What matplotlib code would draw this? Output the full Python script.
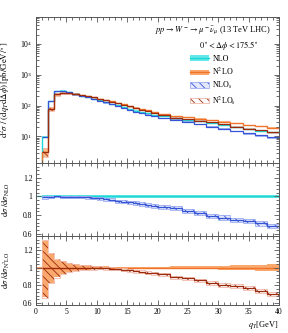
import numpy as np
import matplotlib
matplotlib.use('Agg')
import matplotlib.pyplot as plt
from matplotlib.patches import Patch
from matplotlib.lines import Line2D
from matplotlib.ticker import MultipleLocator, LogLocator, NullFormatter, FixedLocator

plt.rcParams['font.family'] = ['Liberation Serif', 'DejaVu Serif']
plt.rcParams['mathtext.fontset'] = 'stix'
plt.rcParams['hatch.linewidth'] = 0.6

# ---------------- data ----------------
# bin edges in qT [GeV]
edges = np.array(list(range(0, 21)) + list(range(22, 41, 2)), dtype=float)

# central values [pb/GeV/deg]  (30 bins, 0-1 ... 38-40)
nlo = [0.5, 9.9, 143, 300, 307, 270, 234, 210, 188, 168, 148, 131, 115, 102, 89,
       78, 69, 62, 56, 51, 45, 40, 35.5, 31, 26.5, 23, 20, 17.4, 15.2, 13.7]
n2lo = [0.5, 3.2, 80, 232, 258, 252, 240, 220, 202, 184, 167, 151, 137, 122, 109,
        97, 87, 78, 70, 63, 53, 46, 41.5, 38, 34.5, 30.5, 26.5, 23.5, 21.5, 19.5]
# s-variants start at the 1-2 bin (29 bins)
nlo_s = [9.8, 142, 300, 305, 268, 232, 208, 186, 165, 145, 127, 111, 97, 84, 73,
         64, 57, 51, 46, 40, 35, 30, 25.5, 21, 17.8, 15, 12.8, 10.8, 9.3]
n2lo_s = [3.2, 80, 232, 258, 252, 240, 220, 202, 184, 166.5, 150, 135.5, 120, 106.5, 94,
          83.5, 74.5, 66, 59, 49, 41, 36.5, 32.5, 28.5, 24.5, 21, 18, 15.8, 13.7]

# relative uncertainties
nlo_err = [0.006, 0.011, 0.011, 0.011, 0.011, 0.011, 0.011, 0.011, 0.011, 0.011, 0.011, 0.011, 0.011, 0.011, 0.011,
           0.011, 0.011, 0.011, 0.011, 0.011, 0.011, 0.012, 0.012, 0.012, 0.012, 0.012, 0.012, 0.012, 0.012, 0.012]
nlo_s_err = [0.015, 0.012, 0.01, 0.01, 0.01, 0.01, 0.011, 0.012, 0.013, 0.014, 0.015, 0.016, 0.017, 0.018, 0.019,
             0.02, 0.021, 0.022, 0.023, 0.024, 0.025, 0.026, 0.027, 0.028, 0.029, 0.03, 0.031, 0.032, 0.033]
n2lo_up = [0.005, 0.30, 0.16, 0.09, 0.07, 0.052, 0.042, 0.033, 0.026, 0.021, 0.017, 0.014, 0.012, 0.011, 0.01,
           0.01, 0.01, 0.01, 0.011, 0.011, 0.012, 0.014, 0.016, 0.018, 0.021, 0.024, 0.027, 0.03, 0.033, 0.036]
n2lo_dn = [0.005, 0.33, 0.17, 0.11, 0.068, 0.048, 0.038, 0.03, 0.024, 0.02, 0.017, 0.014, 0.012, 0.011, 0.01,
           0.01, 0.01, 0.01, 0.011, 0.011, 0.012, 0.014, 0.016, 0.018, 0.021, 0.024, 0.027, 0.03, 0.033, 0.036]
n2lo_s_up = [0.31, 0.17, 0.095, 0.073, 0.055, 0.045, 0.035, 0.028, 0.022, 0.018, 0.016, 0.015, 0.015, 0.015, 0.016,
             0.016, 0.017, 0.017, 0.018, 0.019, 0.02, 0.021, 0.022, 0.023, 0.024, 0.025, 0.026, 0.027, 0.028]
n2lo_s_dn = [0.345, 0.18, 0.115, 0.07, 0.05, 0.04, 0.032, 0.025, 0.022, 0.018, 0.016, 0.015, 0.015, 0.015, 0.016,
             0.016, 0.017, 0.017, 0.018, 0.019, 0.02, 0.021, 0.022, 0.023, 0.024, 0.025, 0.026, 0.027, 0.028]

nlo = np.array(nlo); n2lo = np.array(n2lo)
nlo_s = np.array(nlo_s); n2lo_s = np.array(n2lo_s)
nlo_err = np.array(nlo_err); nlo_s_err = np.array(nlo_s_err)
n2lo_up = np.array(n2lo_up); n2lo_dn = np.array(n2lo_dn)
n2lo_s_up = np.array(n2lo_s_up); n2lo_s_dn = np.array(n2lo_s_dn)
e_s = edges[1:]

# ---------------- styles ----------------
c_cyan, c_cyan_b = '#1fd6d6', '#62e8e8'
c_or, c_or_b = '#f2742a', '#f9a86e'
c_blue, c_blue_b = '#3553d6', '#9cacf0'
c_red, c_red_b = '#9c2a0c', '#f0b8a8'
spine_c = '#555555'

fig = plt.figure(figsize=(2.88, 3.33), dpi=100)
L, R = 36/288, 279/288
def fy(p):
    return 1 - p/333
ax0 = fig.add_axes([L, fy(163), R-L, fy(17)-fy(163)])
ax1 = fig.add_axes([L, fy(236), R-L, fy(163)-fy(236)])
ax2 = fig.add_axes([L, fy(305), R-L, fy(236)-fy(305)])


def draw(ax, nlo_c, nlo_lo, nlo_hi, s_c, s_lo, s_hi, n2_c, n2_lo, n2_hi, s2_c, s2_lo, s2_hi):
    ax.stairs(nlo_hi, edges, baseline=nlo_lo, fill=True, color=c_cyan_b, lw=0, alpha=0.8)
    ax.stairs(n2_hi, edges, baseline=n2_lo, fill=True, color=c_or_b, lw=0, alpha=0.8)
    ax.stairs(s_hi, e_s, baseline=s_lo, fill=True, facecolor='#dfe4fb', edgecolor=c_blue,
              hatch='\\\\\\\\', lw=0, alpha=0.9)
    ax.stairs(s_hi, e_s, baseline=s_lo, fill=False, edgecolor=c_blue_b, lw=0.6)
    ax.stairs(s2_hi, e_s, baseline=s2_lo, fill=True, facecolor='none', edgecolor=c_red,
              hatch='\\\\\\\\', lw=0)
    ax.stairs(s2_hi, e_s, baseline=s2_lo, fill=False, edgecolor=c_red_b, lw=0.6)
    ax.stairs(nlo_c, edges, color=c_cyan, lw=1.0, baseline=None)
    ax.stairs(n2_c, edges, color=c_or, lw=1.0, baseline=None)
    ax.stairs(s_c, e_s, color=c_blue, lw=0.9, baseline=None)
    ax.stairs(s2_c, e_s, color=c_red, lw=0.9, baseline=None)


# main panel
draw(ax0, nlo, nlo*(1-nlo_err), nlo*(1+nlo_err),
     nlo_s, nlo_s*(1-nlo_s_err), nlo_s*(1+nlo_s_err),
     n2lo, n2lo*(1-n2lo_dn), n2lo*(1+n2lo_up),
     n2lo_s, n2lo_s*(1-n2lo_s_dn), n2lo_s*(1+n2lo_s_up))
ax0.set_yscale('log')
ax0.set_ylim(1.38, 7.5e4)

# ratio to NLO
ax1.stairs(1+nlo_err, edges, baseline=1-nlo_err, fill=True, color=c_cyan_b, lw=0)
ax1.stairs(nlo/nlo, edges, color=c_cyan, lw=1.0, baseline=None)
r1 = nlo_s/nlo[1:]
ax1.stairs(r1*(1+nlo_s_err), e_s, baseline=r1*(1-nlo_s_err), fill=True, facecolor='#e3e8fc',
           edgecolor=c_blue, hatch='\\\\\\\\', lw=0)
ax1.stairs(r1*(1+nlo_s_err), e_s, baseline=r1*(1-nlo_s_err), fill=False, edgecolor=c_blue_b, lw=0.6)
ax1.stairs(r1, e_s, color=c_blue, lw=0.9, baseline=None)

# ratio to N2LO
ax2.stairs(1+n2lo_up, edges, baseline=1-n2lo_dn, fill=True, color=c_or_b, lw=0)
ax2.stairs(n2lo/n2lo, edges, color=c_or, lw=1.0, baseline=None)
r2 = n2lo_s/n2lo[1:]
ax2.stairs(r2*(1+n2lo_s_up), e_s, baseline=r2*(1-n2lo_s_dn), fill=True, facecolor='none',
           edgecolor=c_red, hatch='\\\\\\\\', lw=0)
ax2.stairs(r2*(1+n2lo_s_up), e_s, baseline=r2*(1-n2lo_s_dn), fill=False, edgecolor=c_red_b, lw=0.6)
ax2.stairs(r2, e_s, color=c_red, lw=0.9, baseline=None)

for ax in (ax1, ax2):
    ax.set_ylim(0.575, 1.36)
    ax.yaxis.set_major_locator(FixedLocator([0.6, 0.8, 1.0, 1.2]))
    ax.yaxis.set_minor_locator(MultipleLocator(0.04))
    ax.set_yticklabels(['0.6', '0.8', '1', '1.2'])

for ax in (ax0, ax1, ax2):
    ax.set_xlim(0, 40)
    ax.xaxis.set_major_locator(MultipleLocator(5))
    ax.xaxis.set_minor_locator(MultipleLocator(1))
    ax.tick_params(which='both', direction='in', top=True, right=True, color=spine_c,
                   width=0.6, labelsize=5.5, pad=2.5)
    ax.tick_params(which='major', length=3.6)
    ax.tick_params(which='minor', length=1.9)
    for s in ax.spines.values():
        s.set_color(spine_c)
        s.set_linewidth(0.7)
    ax.yaxis.set_label_coords(-0.098, 0.5)

ax0.tick_params(labelbottom=False)
ax1.tick_params(labelbottom=False)
ax0.yaxis.set_major_locator(LogLocator(base=10, numticks=10))
ax0.yaxis.set_minor_locator(LogLocator(base=10, subs=np.arange(2, 10), numticks=20))
ax0.yaxis.set_minor_formatter(NullFormatter())

ax0.set_ylabel(r'$\mathrm{d}^2\sigma\ /\ (\mathrm{d}q_T\mathrm{d}\Delta\phi)\,[\mathrm{pb/GeV}/^\circ]$', fontsize=6.3, labelpad=0)
ax1.set_ylabel(r'$\mathrm{d}\sigma\ /\mathrm{d}\sigma_{\mathrm{NLO}}$', fontsize=6, labelpad=0)
ax2.set_ylabel(r'$\mathrm{d}\sigma\ /\mathrm{d}\sigma_{\mathrm{N^2LO}}$', fontsize=6, labelpad=0)
ax2.set_xlabel(r'$q_T$[GeV]', fontsize=6, loc='right', labelpad=2)

ax0.text(0.966, 0.905, r'$pp \rightarrow W^- \rightarrow \mu^-\bar{\nu}_\mu$ (13 TeV LHC)',
         transform=ax0.transAxes, ha='right', va='center', fontsize=6)
ax0.text(0.918, 0.808, r'$0^\circ < \Delta\phi < 175.5^\circ$',
         transform=ax0.transAxes, ha='right', va='center', fontsize=6)

handles = [
    (Patch(facecolor=c_cyan_b, lw=0), Line2D([], [], color=c_cyan, lw=1.0)),
    (Patch(facecolor=c_or_b, lw=0), Line2D([], [], color=c_or, lw=1.0)),
    (Patch(facecolor='#e3e8fc', edgecolor=c_blue, hatch='\\\\\\\\', lw=0),
     Patch(facecolor='none', edgecolor=c_blue_b, lw=0.6)),
    (Patch(facecolor='none', edgecolor=c_red, hatch='\\\\\\\\', lw=0),
     Patch(facecolor='none', edgecolor=c_red_b, lw=0.6)),
]
labels = ['NLO', r'N$^2$LO', r'NLO$_\mathrm{s}$', r'N$^2$LO$_\mathrm{s}$']
ax0.legend(handles, labels, loc='upper left', bbox_to_anchor=(0.635, 0.74), frameon=False,
           fontsize=5.8, handlelength=2.3, handleheight=0.7, handletextpad=0.45,
           labelspacing=0.35, borderpad=0, borderaxespad=0)

fig.savefig('out.png', dpi=100)
